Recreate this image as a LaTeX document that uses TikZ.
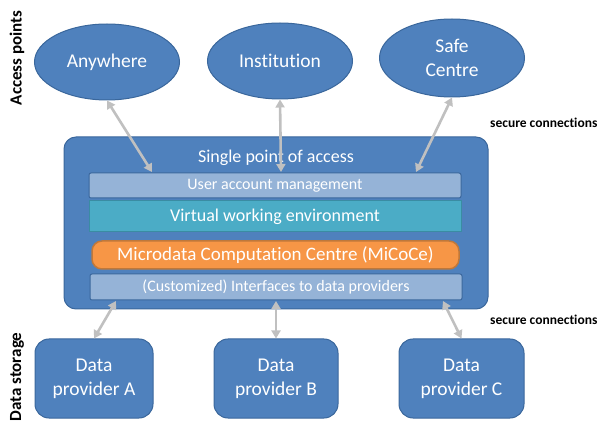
\documentclass[tikz,border=0pt]{standalone}
\usepackage{fontspec}
\setmainfont{Carlito}[Ligatures=NoCommon]
\usetikzlibrary{shapes.geometric,arrows.meta}
\definecolor{blueF}{HTML}{4F81BD}
\definecolor{blueD}{HTML}{3A679C}
\definecolor{lightB}{HTML}{95B3D7}
\definecolor{tealF}{HTML}{4BACC6}
\definecolor{tealD}{HTML}{3A8CA3}
\definecolor{orangeF}{HTML}{F79646}
\definecolor{orangeD}{HTML}{C0783A}
\definecolor{arrowG}{HTML}{C0C0C0}
\begin{document}
\begin{tikzpicture}[x=1pt,y=-1pt,
  access/.style={ellipse, fill=blueF, draw=blueD, line width=1pt, minimum width=145pt, minimum height=76pt, inner sep=0pt, text=white, font=\fontsize{19.5}{24}\selectfont, align=center},
  provider/.style={rectangle, rounded corners=14pt, fill=blueF, draw=blueD, line width=1pt, minimum width=120pt, minimum height=79pt, inner sep=0pt, text=white, font=\fontsize{19.5}{24}\selectfont, align=center},
  mainbox/.style={rectangle, rounded corners=12pt, fill=blueF, draw=blueD, line width=1pt, minimum width=424pt, minimum height=172pt, inner sep=0pt},
  layer/.style={rectangle, draw=blueD, line width=1pt, text=white, minimum width=372pt, inner sep=0pt, rounded corners=2pt},
  link/.style={draw=arrowG, line width=2.6pt, {Triangle[length=8pt,width=9pt]}-{Triangle[length=8pt,width=9pt]}},
  side/.style={rotate=90, font=\bfseries\fontsize{17}{20}\selectfont, inner sep=0pt},
  note/.style={font=\bfseries\fontsize{13.5}{16}\selectfont, inner sep=0pt, anchor=west}
]
\useasboundingbox (0,0) rectangle (603,422);

% side labels
\node[side] (lap) at (17,58) {Access points};
\node[side] (lds) at (17,377) {Data storage};

% access points
\node[access] (any) at (107,62) {Anywhere};
\node[access] (inst) at (280,61) {Institution};
\node[access, minimum height=78pt] (safe) at (452,58) {Safe\\Centre};

% main box
\node[mainbox] (spa) at (276,223) {};
\node[text=white, font=\fontsize{18}{22}\selectfont, inner sep=0pt] (spal) at (276,158) {Single point of access};
\node[layer, fill=lightB, minimum height=25pt, font=\fontsize{16}{19}\selectfont] (uam) at (275,185.5) {User account management};
\node[layer, fill=tealF, draw=tealD, minimum height=31pt, rounded corners=0pt, font=\fontsize{18}{22}\selectfont] (vwe) at (275,216.5) {Virtual working environment};
\node[layer, fill=orangeF, draw=orangeD, line width=1.5pt, minimum width=367pt, minimum height=28pt, rounded corners=10pt, font=\fontsize{19}{23}\selectfont] (mic) at (275.5,255) {Microdata Computation Centre (MiCoCe)};
\node[layer, fill=lightB, minimum height=26pt, font=\fontsize{16}{19}\selectfont] (ifc) at (276,287) {(Customized) Interfaces to data providers};

% data providers
\node[provider, minimum width=118pt] (dpa) at (94,378.5) {Data\\provider A};
\node[provider, minimum width=124pt] (dpb) at (276,378.5) {Data\\provider B};
\node[provider, minimum width=125pt] (dpc) at (461.5,378.5) {Data\\provider C};

% notes
\node[note] (sc1) at (490,123) {secure connections};
\node[note] (sc2) at (490,320) {secure connections};

% connector end points
\coordinate (ua1) at (152,172);
\coordinate (ua2) at (281,172);
\coordinate (ua3) at (416,172);
\coordinate (if1) at (116,301);
\coordinate (if2) at (276,301);
\coordinate (if3) at (443,301);

\draw[link] (any.south) -- (ua1);
\draw[link] (inst.south) -- (ua2);
\draw[link] (safe.south) -- (ua3);
\draw[link] (if1) -- (dpa.north);
\draw[link] (if2) -- (dpb.north);
\draw[link] (if3) -- (dpc.north);
\end{tikzpicture}
\end{document}
